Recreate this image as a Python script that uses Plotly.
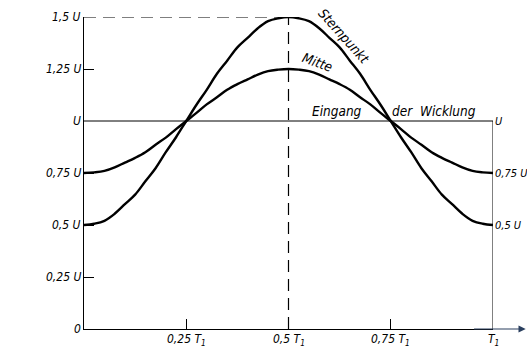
import plotly.graph_objects as go

# data (t in units of T1, voltage in units of U)
t_vals = [0, 0.025, 0.05, 0.075, 0.1, 0.125, 0.15, 0.175, 0.2, 0.225, 0.25,
          0.275, 0.3, 0.325, 0.35, 0.375, 0.4, 0.425, 0.45, 0.475, 0.5,
          0.525, 0.55, 0.575, 0.6, 0.625, 0.65, 0.675, 0.7, 0.725, 0.75,
          0.775, 0.8, 0.825, 0.85, 0.875, 0.9, 0.925, 0.95, 0.975, 1.0]
mitte = [0.75, 0.753, 0.76, 0.777, 0.80, 0.823, 0.85, 0.886, 0.92, 0.961, 1.0,
         1.039, 1.08, 1.114, 1.15, 1.177, 1.20, 1.223, 1.24, 1.247, 1.25,
         1.247, 1.24, 1.223, 1.20, 1.177, 1.15, 1.114, 1.08, 1.039, 1.0,
         0.961, 0.92, 0.886, 0.85, 0.823, 0.80, 0.777, 0.76, 0.753, 0.75]
sternpunkt = [0.5, 0.506, 0.52, 0.554, 0.60, 0.646, 0.71, 0.773, 0.85, 0.922, 1.0,
              1.078, 1.15, 1.227, 1.29, 1.354, 1.40, 1.446, 1.48, 1.494, 1.5,
              1.494, 1.48, 1.446, 1.40, 1.354, 1.29, 1.227, 1.15, 1.078, 1.0,
              0.922, 0.85, 0.773, 0.71, 0.646, 0.60, 0.554, 0.52, 0.506, 0.5]
y_ticks = [0, 0.25, 0.5, 0.75, 1.0, 1.25, 1.5]
y_tick_labels = ["0", "0,25 U", "0,5 U", "0,75 U", "U", "1,25 U", "1,5 U"]
x_ticks = [0.25, 0.5, 0.75, 1.0]
x_tick_labels = ["0,25 <i>T</i><sub>1</sub>", "0,5 <i>T</i><sub>1</sub>",
                 "0,75 <i>T</i><sub>1</sub>", "<i>T</i><sub>1</sub>"]
right_labels = [(1.0, "U"), (0.75, "0,75 U"), (0.5, "0,5 U")]

FONT = "DejaVu Sans Condensed, Liberation Sans Narrow, Liberation Sans"
fnt = dict(family=FONT, size=12, color="black", style="italic")
fnt_small = dict(family=FONT, size=11, color="black", style="italic")
fnt_big = dict(family=FONT, size=13.5, color="black", style="italic")

fig = go.Figure()
for ys in (mitte, sternpunkt):
    fig.add_trace(go.Scatter(x=t_vals, y=ys, mode="lines",
                             line=dict(color="black", width=2.4, shape="spline", smoothing=1),
                             cliponaxis=False, showlegend=False, hoverinfo="skip"))

shapes = [
    dict(type="line", x0=0, x1=1, y0=1, y1=1, line=dict(color="black", width=1)),
    dict(type="line", x0=1, x1=1, y0=0, y1=1, line=dict(color="black", width=1)),
    dict(type="line", x0=0.5, x1=0.5, y0=0, y1=1.5, line=dict(color="black", width=1.2, dash="12px,7px")),
    dict(type="line", x0=0, x1=0.5, y0=1.5, y1=1.5, line=dict(color="black", width=1.2, dash="12px,7px")),
]
fig.update_layout(shapes=shapes)

ann = []
for v, lab in zip(y_ticks, y_tick_labels):
    ann.append(dict(x=0, y=v, xref="x", yref="y", text=lab, showarrow=False,
                    xanchor="right", yanchor="middle", xshift=-1, font=fnt))
for v, lab in zip(x_ticks, x_tick_labels):
    ann.append(dict(x=v, y=0, xref="x", yref="y", text=lab, showarrow=False,
                    xanchor="center", yanchor="top", yshift=-1, font=fnt))
for v, lab in right_labels:
    ann.append(dict(x=1, y=v, xref="x", yref="y", text=lab, showarrow=False,
                    xanchor="left", yanchor="middle", xshift=0, font=fnt_small))
# x axis arrow
ann.append(dict(x=1.08, y=0, ax=0.95, ay=0, xref="x", yref="y", axref="x", ayref="y",
                showarrow=True, arrowhead=2, arrowsize=1.2, arrowwidth=1.2, text=""))
ann.append(dict(x=1.035, y=0.08, xref="x", yref="y", text="t", showarrow=False, font=fnt))
# curve labels
ann.append(dict(x=(344 - 84) / 409, y=(329 - 36) / 208, xref="x", yref="y", text="Sternpunkt",
                showarrow=False, textangle=48, font=fnt_big))
ann.append(dict(x=(317 - 84) / 409, y=(329 - 62) / 208, xref="x", yref="y", text="Mitte",
                showarrow=False, textangle=20, font=fnt_big))
ann.append(dict(x=(337 - 84) / 409, y=(329 - 111) / 208, xref="x", yref="y", text="Eingang",
                showarrow=False, font=fnt_big))
ann.append(dict(x=(434 - 84) / 409, y=(329 - 111) / 208, xref="x", yref="y", text="der  Wicklung",
                showarrow=False, font=fnt_big))
# y label
ann.append(dict(x=(38 - 84) / 409, y=(329 - 155) / 208, xref="x", yref="y", text="Spannung",
                showarrow=False, textangle=-90, font=fnt_big))
ann.append(dict(x=(35 - 84) / 409, y=(329 - 188) / 208, ax=(35 - 84) / 409, ay=(329 - 238) / 208,
                xref="x", yref="y", axref="x", ayref="y", text="", showarrow=True,
                arrowhead=2, arrowsize=1.2, arrowwidth=1.5))
ann.append(dict(x=(13 - 84) / 409, y=(329 - 181) / 208, xref="x", yref="y", text="c",
                showarrow=False, font=dict(family="DejaVu Serif", size=13, color="black")))

fig.update_layout(
    annotations=ann,
    width=527, height=351,
    margin=dict(l=84, r=34, t=17, b=22),
    paper_bgcolor="white", plot_bgcolor="white",
    xaxis=dict(range=[0, 1], showgrid=False, zeroline=False, showline=True, linecolor="black",
               linewidth=1.4, tickvals=[0.25, 0.75], ticks="inside", ticklen=10, tickcolor="black",
               tickwidth=1, showticklabels=False),
    yaxis=dict(range=[0, 1.5], showgrid=False, zeroline=False, showline=True, linecolor="black",
               linewidth=1.4, tickvals=[0.25, 0.5, 0.75, 1.25, 1.5], ticks="inside", ticklen=10,
               tickcolor="black", tickwidth=1, showticklabels=False),
)
fig.write_html("out.html")
